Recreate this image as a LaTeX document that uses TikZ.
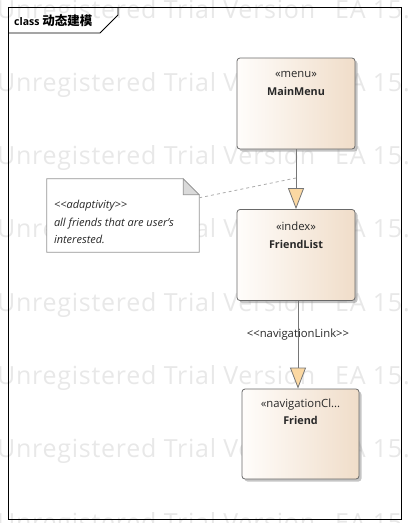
\documentclass[tikz,border=0pt]{standalone}
\usepackage{fontspec}
\setmainfont{Open Sans}
\newfontfamily\cjkfont{Noto Sans CJK SC}
\newfontfamily\wmfont[LetterSpace=3]{Open Sans}
\usetikzlibrary{shadows,arrows.meta,calc}
\definecolor{wmcol}{RGB}{232,232,232}
\definecolor{linecol}{RGB}{118,118,118}
\definecolor{boxline}{RGB}{105,105,105}
\definecolor{tanright}{RGB}{240,221,201}
\definecolor{tanleft}{RGB}{255,253,251}
\definecolor{arrowfill}{RGB}{251,216,162}
\definecolor{notegrey}{RGB}{150,150,150}
\definecolor{foldfill}{RGB}{218,218,218}
\definecolor{txt}{RGB}{40,40,40}
\begin{document}
\begin{tikzpicture}[x=1pt,y=-1pt,
  wm/.style={inner sep=0pt,text=wmcol,font=\wmfont\fontsize{25}{27}\selectfont},
  classbox/.style={rectangle,rounded corners=3pt,draw=boxline,line width=0.8pt,
    left color=tanleft,right color=tanright,minimum width=118pt,minimum height=91pt,
    drop shadow={shadow xshift=2.5pt,shadow yshift=-2.5pt,fill=black!45,opacity=0.5}},
  stereo/.style={inner sep=0pt,text=txt,font=\fontsize{11.3}{13}\selectfont},
  cname/.style={inner sep=0pt,text=txt,font=\bfseries\fontsize{10.8}{12}\selectfont},
  conn/.style={draw=linecol,line width=0.8pt,-{Triangle[width=16pt,length=21pt,fill=arrowfill]}},
  notetxt/.style={inner sep=0pt,text=txt,font=\itshape\fontsize{11}{17.5}\selectfont,align=left}
]
\useasboundingbox (0,0) rectangle (408,523);
% watermark
\begin{scope}
\clip (0,0) rectangle (408,523);
\foreach \k in {0,...,7}{
  \node[wm,anchor=base west] (wma\k) at (-3,18+73.3*\k) {Unregistered Trial Version};
  \node[wm,anchor=base west] (wmb\k) at (335,18+73.3*\k) {EA 15.2};
}
\end{scope}
% frame
\draw[black,line width=0.9pt] (8,7) rectangle (401,519);
\draw[black,line width=0.9pt] (8,33) -- (100,33) -- (118,15) -- (118,7);
\node[anchor=base west,inner sep=0pt,font=\bfseries\fontsize{10.5}{12}\selectfont] (title) at (14,25.5) {class {\cjkfont\bfseries\fontsize{12.5}{13}\selectfont 动态建模}};
% classes
\node[classbox] (MM) at (296,103.5) {};
\node[stereo] (MMs) at ($(MM.north)+(0,17)$) {«menu»};
\node[cname] (MMn) at ($(MM.north)+(0,34)$) {MainMenu};
\node[classbox] (FL) at (296,255) {};
\node[stereo] (FLs) at ($(FL.north)+(0,17)$) {«index»};
\node[cname] (FLn) at ($(FL.north)+(0,35)$) {FriendList};
\node[classbox,minimum width=117pt,minimum height=90pt] (F) at (300.5,434) {};
\node[stereo] (Fs) at ($(F.north)+(0,16)$) {«navigationCl...};
\node[cname] (Fn) at ($(F.north)+(0,32)$) {Friend};
% connectors
\draw[conn] (MM.south) -- (FL.north);
\draw[conn] ([xshift=2pt]FL.south) -- ([xshift=-2.5pt]F.north);
\node[stereo,text=txt] (navlbl) at (298,335) {<{}<navigationLink>{}>};
% note
\node[minimum width=152pt,minimum height=73pt,inner sep=0pt] (note) at (123,215.5) {};
\draw[notegrey,line width=0.8pt,fill=white] (note.north west) -- ($(note.north east)+(-16,0)$) -- ($(note.north east)+(0,16)$) -- (note.south east) -- (note.south west) -- cycle;
\draw[notegrey,line width=0.8pt,fill=foldfill] ($(note.north east)+(-16,0)$) -- ($(note.north east)+(-16,16)$) -- ($(note.north east)+(0,16)$) -- cycle;
\node[notetxt,anchor=north west] (notetext) at ($(note.north west)+(7,21.5)$) {<{}<adaptivity>{}>\\all friends that are user's\\interested.};
\coordinate (c1) at (296,178);
\draw[notegrey!80,line width=0.8pt,dashed] ($(note.north east)+(0,19)$) -- (c1);
\end{tikzpicture}
\end{document}
